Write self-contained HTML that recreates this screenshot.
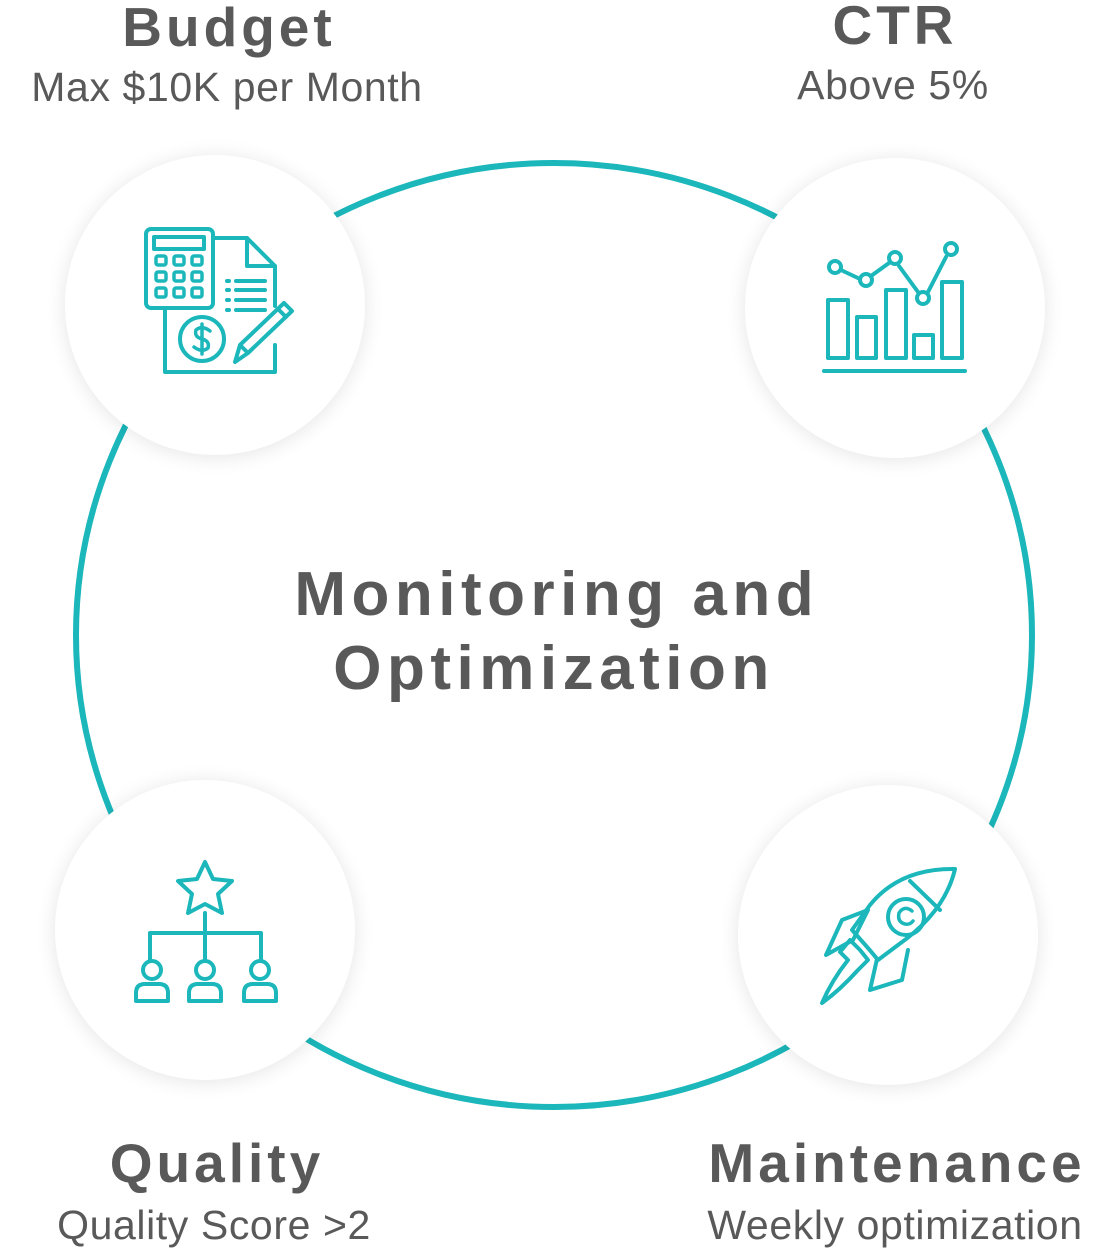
<!DOCTYPE html>
<html><head><style>
html,body{margin:0;padding:0;background:#fff;}
body{width:1100px;height:1252px;position:relative;overflow:hidden;font-family:"Liberation Sans",sans-serif;color:#595959;}
.h{position:absolute;font-weight:bold;font-size:55px;letter-spacing:4px;text-indent:4px;text-align:center;white-space:nowrap;line-height:1;}
.s{position:absolute;font-size:41px;letter-spacing:0.6px;text-align:center;white-space:nowrap;line-height:1;}
.t{position:absolute;left:0;width:1108px;text-align:center;font-weight:bold;font-size:62px;letter-spacing:5.5px;text-indent:5.5px;line-height:74px;top:558px;}
</style></head><body>
<svg width="1100" height="1252" style="position:absolute;left:0;top:0">
<defs><filter id="sh" x="-30%" y="-30%" width="160%" height="160%"><feGaussianBlur stdDeviation="10"/></filter></defs>
<ellipse cx="554" cy="635" rx="478" ry="472" fill="none" stroke="#1bb7bb" stroke-width="6"/>
<g fill="#000" opacity="0.10" filter="url(#sh)">
<circle cx="215" cy="307" r="150"/><circle cx="895" cy="310" r="150"/>
<circle cx="205" cy="932" r="150"/><circle cx="888" cy="937" r="150"/></g>
<g fill="#fff"><circle cx="215" cy="305" r="150"/><circle cx="895" cy="308" r="150"/>
<circle cx="205" cy="930" r="150"/><circle cx="888" cy="935" r="150"/></g>
<g fill="none" stroke="#1bb7bb" stroke-width="4" stroke-linejoin="round" stroke-linecap="round">
<rect x="146" y="229" width="67" height="79" rx="5"/>
<rect x="154" y="237" width="50" height="12"/>
<g stroke-width="3.5"><rect x="156" y="256" width="10" height="9" rx="2"/><rect x="174" y="256" width="10" height="9" rx="2"/><rect x="192" y="256" width="10" height="9" rx="2"/>
<rect x="156" y="272" width="10" height="9" rx="2"/><rect x="174" y="272" width="10" height="9" rx="2"/><rect x="192" y="272" width="10" height="9" rx="2"/>
<rect x="156" y="288" width="10" height="9" rx="2"/><rect x="174" y="288" width="10" height="9" rx="2"/><rect x="192" y="288" width="10" height="9" rx="2"/></g>
<path d="M213 238 H247 L275 266 V306 M275 345 V372 H165 V308"/>
<path d="M247 238 V266 H275"/>
<path d="M236 281 H265 M236 290 H265 M236 300 H265 M236 310 H265 M227 281 h2 M227 290 h2 M227 300 h2 M227 310 h2"/>
<circle cx="202" cy="339" r="22"/>
<path d="M210 331 Q202 325 196 330 Q194 337 202 339 Q210 341 208 348 Q202 353 194 347 M202 324 V354" stroke-width="3.5"/>
<path d="M235 362 L240 345 L284 303 L292 311 L248 353 Z M240 345 L248 353 M278 309 L286 317"/>
<path d="M824 371 H965"/>
<rect x="828" y="300" width="20" height="58"/><rect x="857" y="317" width="19" height="41"/>
<rect x="886" y="290" width="20" height="68"/><rect x="914" y="335" width="19" height="23"/>
<rect x="942" y="282" width="20" height="76"/>
<path d="M841 270 L860 279 M871 276 L889 263 M899 266 L918 292 M928 292 L946 257"/>
<circle cx="835" cy="267" r="6"/><circle cx="866" cy="280" r="6"/><circle cx="895" cy="258" r="6"/><circle cx="923" cy="298" r="6"/><circle cx="951" cy="249" r="6"/>
<path d="M205 862 L213 879 L232 881 L218 894 L222 913 L205 904 L188 913 L192 894 L178 881 L197 879 Z"/>
<path d="M205 913 V960 M150 960 V933 H261 V960"/>
<circle cx="152" cy="970" r="9"/><circle cx="205" cy="970" r="9"/><circle cx="260" cy="970" r="9"/>
<path d="M136 1001 V993 Q136 984 145 984 H159 Q168 984 168 993 V1001 Z M189 1001 V993 Q189 984 198 984 H212 Q221 984 221 993 V1001 Z M244 1001 V993 Q244 984 253 984 H267 Q276 984 276 993 V1001 Z"/>
<path d="M955 869 Q900 868 870 905 L852 930 Q870 950 878 960 L898 945 Q945 912 955 869 Z"/>
<path d="M910 881 L940 910"/>
<circle cx="906" cy="917" r="18"/>
<path d="M912 911 Q904 905 899 913 Q897 922 905 924 Q910 925 913 921" stroke-width="3.5"/>
<path d="M868 910 L842 920 L826 955 L853 940 Z"/>
<path d="M877 959 L870 990 L902 980 L908 950"/>
<path d="M850 940 L860 950 L868 960 L858 970 Q840 990 822 1003 Q832 980 848 960 L840 952 Z"/>
</g>
</svg>
<div class="h" style="left:77px;width:300px;top:0px">Budget</div>
<div class="s" style="left:27px;width:400px;top:67px">Max $10K per Month</div>
<div class="h" style="left:793px;width:200px;top:-2px">CTR</div>
<div class="s" style="left:793px;width:200px;top:65px">Above 5%</div>
<div class="t">Monitoring and<br>Optimization</div>
<div class="h" style="left:65px;width:300px;top:1136px">Quality</div>
<div class="s" style="left:14px;width:400px;top:1205px">Quality Score &gt;2</div>
<div class="h" style="left:690px;width:410px;top:1136px">Maintenance</div>
<div class="s" style="left:690px;width:410px;top:1205px">Weekly optimization</div>
</body></html>
